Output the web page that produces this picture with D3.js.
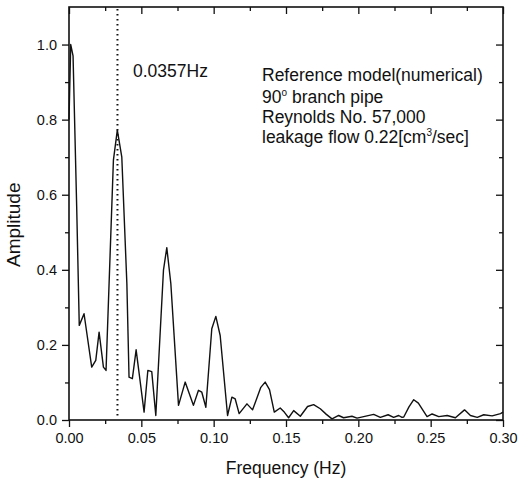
<!DOCTYPE html>
<html>
<head>
<meta charset="utf-8">
<script src="https://cdn.jsdelivr.net/npm/d3@7"></script>
<style>
  body { margin: 0; background: #fff; }
  text { font-family: "Liberation Sans", Arial, sans-serif; fill: #111; }
</style>
</head>
<body>
<svg id="chart"></svg>
<script>
// spectrum
const freq = [0, 0.0012, 0.0028, 0.0053, 0.0071, 0.0104, 0.0157, 0.0185, 0.0208, 0.0238,
  0.0256, 0.0307, 0.0334, 0.0365, 0.040, 0.0415, 0.0438, 0.0464, 0.0519, 0.0545,
  0.0572, 0.060, 0.0653, 0.0676, 0.0704, 0.0757, 0.0803, 0.086, 0.0895, 0.0918,
  0.0946, 0.0987, 0.1015, 0.1045, 0.1096, 0.1126, 0.1149, 0.1176, 0.123, 0.1269,
  0.1326, 0.1356, 0.1386, 0.1419, 0.146, 0.1488, 0.1518, 0.1553, 0.1599, 0.1649,
  0.1691, 0.1737, 0.1779, 0.1818, 0.1864, 0.1898, 0.1956, 0.1991, 0.2037, 0.2106,
  0.2152, 0.2206, 0.2244, 0.2279, 0.2302, 0.2314, 0.235, 0.2383, 0.2415, 0.2475,
  0.251, 0.2556, 0.2614, 0.2671, 0.2734, 0.2775, 0.2822, 0.2867, 0.2925, 0.2983, 0.300];
const amp = [0.80, 1.0, 0.97, 0.57, 0.252, 0.283, 0.141, 0.159, 0.234, 0.141,
  0.132, 0.692, 0.772, 0.70, 0.363, 0.114, 0.11, 0.187, 0.021, 0.132,
  0.129, 0.012, 0.399, 0.459, 0.363, 0.039, 0.101, 0.039, 0.079, 0.074,
  0.034, 0.243, 0.276, 0.225, 0.012, 0.061, 0.056, 0.017, 0.043, 0.027,
  0.087, 0.101, 0.081, 0.021, 0.032, 0.021, 0.006, 0.025, 0.010, 0.036,
  0.041, 0.030, 0.015, 0.003, 0.012, 0.006, 0.010, 0.005, 0.009, 0.015,
  0.007, 0.014, 0.007, 0.012, 0.007, 0.008, 0.035, 0.054, 0.045, 0.009,
  0.016, 0.009, 0.012, 0.006, 0.027, 0.012, 0.007, 0.014, 0.011, 0.017, 0.021];

const xTicks = [0, 0.05, 0.10, 0.15, 0.20, 0.25, 0.30];
const xMinor = [0.025, 0.075, 0.125, 0.175, 0.225, 0.275];
const yTicks = [0, 0.2, 0.4, 0.6, 0.8, 1.0];
const yMinor = [0.1, 0.3, 0.5, 0.7, 0.9];
const peakFreq = 0.0335;
const peakLabel = "0.0357Hz";

const width = 518, height = 485;
const margin = {left: 69, right: 15, top: 7, bottom: 65};
const svg = d3.select("#chart").attr("width", width).attr("height", height);

const x = d3.scaleLinear().domain([0, 0.3]).range([margin.left, width - margin.right]);
const y = d3.scaleLinear().domain([0, 1.1]).range([height - margin.bottom, margin.top]);

const fmtX = d3.format(".2f"), fmtY = d3.format(".1f");

// major + minor ticks, outward on bottom/left, inward on top/right
function addAxis(axis, tr) {
  const g = svg.append("g").attr("transform", tr).call(axis);
  g.select(".domain").remove();
  g.selectAll("line").attr("stroke", "#111").attr("stroke-width", 1.3);
  return g;
}
const bottomY = y(0), topY = y(1.1), leftX = x(0), rightX = x(0.3);

addAxis(d3.axisBottom(x).tickValues(xTicks).tickSize(7).tickPadding(6).tickFormat(fmtX), `translate(0,${bottomY})`)
  .selectAll("text").attr("font-size", 14.5);
addAxis(d3.axisBottom(x).tickValues(xMinor).tickSize(4).tickFormat(""), `translate(0,${bottomY})`);
addAxis(d3.axisTop(x).tickValues(xTicks).tickSize(-7).tickFormat(""), `translate(0,${topY})`);
addAxis(d3.axisTop(x).tickValues(xMinor).tickSize(-4).tickFormat(""), `translate(0,${topY})`);

addAxis(d3.axisLeft(y).tickValues(yTicks).tickSize(7).tickPadding(5).tickFormat(fmtY), `translate(${leftX},0)`)
  .selectAll("text").attr("font-size", 14.5);
addAxis(d3.axisLeft(y).tickValues(yMinor).tickSize(4).tickFormat(""), `translate(${leftX},0)`);
addAxis(d3.axisRight(y).tickValues(yTicks).tickSize(-7).tickFormat(""), `translate(${rightX},0)`);
addAxis(d3.axisRight(y).tickValues(yMinor).tickSize(-4).tickFormat(""), `translate(${rightX},0)`);

svg.append("rect")
  .attr("x", leftX).attr("y", topY)
  .attr("width", rightX - leftX).attr("height", bottomY - topY)
  .attr("fill", "none").attr("stroke", "#111").attr("stroke-width", 1.6);

// dotted marker at the fundamental
svg.append("line")
  .attr("x1", x(peakFreq)).attr("x2", x(peakFreq))
  .attr("y1", topY + 2).attr("y2", y(0.012))
  .attr("stroke", "#111").attr("stroke-width", 2)
  .attr("stroke-dasharray", "1.6,3.4");

const data = freq.map((f, i) => [f, amp[i]]);
svg.append("path")
  .datum(data)
  .attr("fill", "none")
  .attr("stroke", "#111")
  .attr("stroke-width", 1.4)
  .attr("stroke-linejoin", "round")
  .attr("d", d3.line().x(d => x(d[0])).y(d => y(d[1])));

// labels
svg.append("text").attr("x", 133).attr("y", 77).attr("font-size", 17.5).text(peakLabel);

const notes = svg.append("g").attr("font-size", 17.5);
notes.append("text").attr("x", 262).attr("y", 81).text("Reference model(numerical)");
const l2 = notes.append("text").attr("x", 262).attr("y", 102.5);
l2.append("tspan").text("90");
l2.append("tspan").attr("font-size", 10).attr("dy", -7).text("o");
l2.append("tspan").attr("dy", 7).text(" branch pipe");
notes.append("text").attr("x", 262).attr("y", 122.5).text("Reynolds No. 57,000");
const l4 = notes.append("text").attr("x", 262).attr("y", 143);
l4.append("tspan").text("leakage flow 0.22[cm");
l4.append("tspan").attr("font-size", 10).attr("dy", -7).text("3");
l4.append("tspan").attr("dy", 7).text("/sec]");

svg.append("text")
  .attr("x", (leftX + rightX) / 2).attr("y", 474)
  .attr("text-anchor", "middle").attr("font-size", 17.5)
  .text("Frequency (Hz)");

svg.append("text")
  .attr("transform", `translate(20,${y(0.52)}) rotate(-90)`)
  .attr("text-anchor", "middle").attr("font-size", 19)
  .text("Amplitude");
</script>
</body>
</html>
